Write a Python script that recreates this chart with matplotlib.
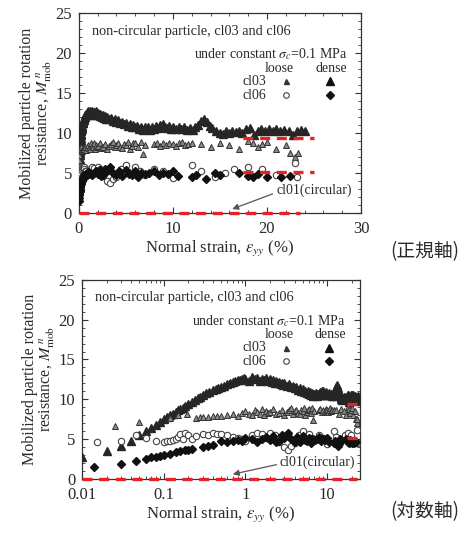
import matplotlib.pyplot as plt
from matplotlib.ticker import MultipleLocator

plt.rcParams['font.family'] = ['Liberation Serif', 'Noto Sans CJK JP']
plt.rcParams['mathtext.fontset'] = 'stix'

# cl03 dense (large filled triangles)
cl03_dense_x = [0.01, 0.02, 0.03, 0.04, 0.05, 0.06, 0.07, 0.08, 0.09, 0.1, 0.11, 0.12, 0.13, 0.14, 0.15,
                0.16, 0.17, 0.18, 0.2, 0.22, 0.24, 0.26, 0.28, 0.3, 0.33, 0.36, 0.4, 0.43, 0.46, 0.5,
                0.55, 0.6, 0.65, 0.7, 0.75, 0.8, 0.85, 0.9, 0.95,
                1.0, 1.1, 1.2, 1.3, 1.4, 1.5, 1.6, 1.7, 1.8, 1.9, 2.0, 2.1, 2.2, 2.3, 2.4, 2.5,
                2.6, 2.7, 2.8, 2.9, 3.0, 3.2, 3.4, 3.6, 3.8, 4.0, 4.2, 4.4, 4.6, 4.8, 5.0, 5.2,
                5.4, 5.6, 5.8, 6.0, 6.2, 6.4, 6.6, 6.8, 7.0, 7.2, 7.4, 7.6, 7.8, 8.0, 8.2, 8.4,
                8.6, 8.8, 9.0, 9.2, 9.4, 9.6, 9.8, 10.0, 10.3, 10.6, 10.9, 11.2, 11.5, 11.8, 12.1,
                12.4, 12.7, 13.0, 13.3, 13.6, 13.9, 14.2, 14.6, 15.0, 15.3, 15.6, 16.0, 16.3, 16.7,
                17.0, 17.4, 17.8, 18.2, 18.6, 19.0, 19.4, 19.8, 20.2, 20.6, 21.0, 21.4, 21.8, 22.3,
                22.8, 23.2, 23.6, 24.0]
cl03_dense_y = [2.8, 3.5, 4.2, 4.8, 5.5, 6.0, 6.4, 6.8, 7.2, 7.5, 7.8, 8.0, 8.2, 8.4, 8.6,
                8.8, 8.9, 9.1, 9.4, 9.7, 9.9, 10.2, 10.3, 10.5, 10.8, 10.9, 11.2, 11.3, 11.4, 11.6,
                11.7, 11.9, 12.0, 12.2, 12.3, 12.4, 12.4, 12.5, 12.7,
                12.6, 12.3, 12.8, 12.5, 12.7, 12.3, 12.6, 12.4, 12.7, 12.3, 12.5, 12.2, 12.4, 12.1, 12.3, 12.0,
                12.2, 11.9, 12.1, 11.8, 12.0, 11.7, 11.9, 11.5, 11.7, 11.4, 11.6, 11.2, 11.4, 11.1, 11.3, 10.9,
                11.1, 10.8, 11.0, 10.7, 10.9, 10.5, 10.8, 10.4, 10.7, 10.5, 10.8, 10.4, 10.7, 10.5, 10.9, 10.6,
                11.0, 10.7, 11.1, 10.8, 10.6, 10.9, 10.5, 10.7, 10.5, 10.8, 10.5, 10.7, 10.4, 10.6, 10.4,
                10.7, 11.0, 11.5, 11.8, 11.4, 10.9, 10.6, 10.3, 10.0, 9.9, 10.2, 10.0, 10.3, 10.1,
                10.3, 10.0, 10.5, 10.6, 9.7, 10.2, 10.5, 10.3, 10.5, 10.3, 10.5, 10.3, 10.4, 10.3,
                9.8, 10.3, 10.4, 10.2]

# cl03 loose (small triangles)
cl03_loose_x = [0.025, 0.05, 0.12, 0.15, 0.19, 0.25, 0.28, 0.3, 0.35, 0.4, 0.45, 0.5, 0.6, 0.7, 0.8,
                0.9, 1.0, 1.1, 1.2, 1.3, 1.4, 1.5, 1.6, 1.7, 1.8, 1.9, 2.0, 2.2, 2.4, 2.6, 2.8,
                3.0, 3.2, 3.4, 3.6, 3.8, 4.0, 4.2, 4.4, 4.6, 4.8, 5.0, 5.2, 5.4, 5.6, 5.8, 6.0,
                6.3, 6.6, 6.8, 7.0, 8.0, 8.3, 8.6, 9.0, 9.3, 9.6, 10.0, 10.3, 10.6, 11.0, 11.3,
                11.6, 12.0, 13.0, 14.0, 15.0, 16.0, 17.0, 18.0, 18.5, 19.0, 19.5, 20.0, 21.0,
                22.0, 22.5, 23.0, 23.3]
cl03_loose_y = [6.6, 7.2, 7.7, 8.0, 8.2, 7.7, 7.8, 7.8, 7.8, 7.9, 7.9, 7.9, 8.0, 8.2, 7.9,
                8.3, 8.5, 8.1, 8.0, 8.7, 8.4, 8.2, 8.8, 8.0, 8.5, 8.3, 8.4, 8.8, 8.1, 8.3, 8.6,
                8.0, 8.4, 8.6, 8.9, 8.2, 8.5, 8.7, 8.3, 8.1, 8.6, 8.5, 8.9, 8.0, 8.4, 8.7, 8.8,
                8.3, 8.9, 7.4, 8.5, 8.6, 8.8, 8.4, 8.7, 8.5, 8.8, 8.6, 8.4, 8.7, 8.9, 8.5,
                8.6, 8.7, 8.6, 8.2, 8.8, 8.5, 8.0, 9.0, 8.8, 8.3, 8.6, 8.9, 8.0,
                8.5, 7.5, 7.0, 7.5]

# cl06 loose (open circles)
cl06_loose_x = [0.015, 0.03, 0.045, 0.06, 0.08, 0.1, 0.11, 0.12, 0.13, 0.14, 0.15, 0.16, 0.17, 0.18,
                0.2, 0.22, 0.25, 0.3, 0.35, 0.4, 0.45, 0.5, 0.6, 0.7, 0.8, 0.9, 1.0, 1.2, 1.4,
                1.6, 1.8, 2.0, 2.3, 2.6, 3.0, 3.3, 3.6, 4.0, 4.5, 5.0, 5.5, 6.0, 6.5, 7.0, 8.0,
                9.0, 10.0, 12.0, 13.0, 14.5, 15.5, 16.5, 18.0, 19.5, 21.0, 23.0, 23.2]
cl06_loose_y = [4.6, 4.8, 5.5, 5.2, 4.8, 4.7, 4.8, 4.8, 4.9, 5.0, 5.3, 5.6, 5.0, 5.8,
                5.5, 5.0, 5.4, 5.6, 5.5, 5.8, 5.6, 5.7, 5.5, 5.3, 5.2, 5.0, 4.8, 5.5, 5.8,
                5.6, 5.2, 5.8, 5.5, 4.6, 4.0, 3.7, 4.2, 4.5, 5.5, 6.0, 5.0, 5.7, 5.2, 4.8, 5.5,
                5.2, 4.4, 6.0, 5.3, 4.5, 5.0, 5.5, 5.8, 5.5, 4.8, 6.2, 4.5]

# cl06 dense (filled diamonds)
cl06_dense_x = [0.014, 0.03, 0.045, 0.06, 0.07, 0.08, 0.09, 0.1, 0.12, 0.14, 0.16, 0.18, 0.2, 0.22,
                0.3, 0.35, 0.4, 0.5, 0.6, 0.7, 0.8, 0.9, 1.0, 1.2, 1.4, 1.6, 1.8, 2.0, 2.2, 2.4,
                2.6, 2.8, 3.0, 3.3, 3.6, 4.0, 4.3, 4.6, 5.0, 5.3, 5.6, 6.0, 6.3, 6.6, 7.0, 7.5,
                8.0, 8.5, 9.0, 9.5, 10.0, 10.5, 12.0, 12.5, 13.5, 14.5, 15.0, 17.0, 18.0, 18.5,
                19.0, 20.0, 21.5, 22.5]
cl06_dense_y = [1.5, 1.9, 2.3, 2.5, 2.7, 2.8, 2.9, 3.0, 3.2, 3.4, 3.5, 3.6, 3.7, 3.8,
                4.0, 4.2, 4.3, 4.8, 4.7, 4.8, 4.9, 4.8, 5.1, 5.0, 4.7, 5.0, 5.3, 4.9, 5.4, 4.6,
                4.8, 5.5, 5.2, 5.8, 5.0, 4.7, 5.3, 4.6, 5.4, 4.9, 4.8, 5.2, 4.5, 5.0, 4.9, 5.0,
                5.3, 4.8, 5.0, 4.9, 5.2, 4.6, 4.5, 4.8, 4.2, 5.0, 4.8, 5.0, 4.6, 4.5,
                4.9, 4.5, 4.5, 4.6]

# reference levels (red dashed)
ref_levels = [9.4, 5.1]
ref_start, ref_end = 17.5, 25.0
cl01_level = 0.0
cl01_end = 23.5

TXT = '#2a2a2a'
RED = '#e8202a'


def draw(ax, log):
    ax.plot(cl03_dense_x, cl03_dense_y, '^', ms=6.2, color='#262626', mec='#262626', zorder=3)
    ax.plot(cl03_loose_x, cl03_loose_y, '^', ms=4.2, mfc='#8a8a8a', mec='#333', mew=0.7, zorder=3)
    ax.plot(cl06_loose_x, cl06_loose_y, 'o', ms=4.6, mfc='white', mec='#444', mew=0.8, zorder=3)
    ax.plot(cl06_dense_x, cl06_dense_y, 'D', ms=4.4, color='#111', zorder=3)
    for lv in ref_levels:
        ax.plot([ref_start, ref_end], [lv, lv], '--', color=RED, lw=2.4, dashes=(3, 2.0), zorder=4)
    x0 = 0.01 if log else 0.0
    ax.plot([x0, cl01_end], [cl01_level, cl01_level], '--', color=RED, lw=2.4,
            dashes=(3, 2.0), zorder=4, clip_on=False)

    ax.set_ylim(0, 25)
    ax.yaxis.set_major_locator(MultipleLocator(5))
    ax.yaxis.set_minor_locator(MultipleLocator(1))
    if log:
        ax.set_xscale('log')
        ax.set_xlim(0.01, 25)
        ax.set_xticks([0.01, 0.1, 1, 10])
        ax.set_xticklabels(['0.01', '0.1', '1', '10'])
    else:
        ax.set_xlim(0, 30)
        ax.xaxis.set_major_locator(MultipleLocator(10))
        ax.xaxis.set_minor_locator(MultipleLocator(2))
    ax.tick_params(which='both', direction='in', top=True, right=True, colors='#333',
                   labelcolor=TXT, labelsize=12)
    ax.tick_params(axis='y', pad=5)
    ax.tick_params(axis='x', pad=6)
    ax.tick_params(which='major', length=4)
    ax.tick_params(which='minor', length=2)
    for s in ax.spines.values():
        s.set_color('#333')
        s.set_linewidth(0.9)

    ax.set_xlabel(r'Normal strain, $\varepsilon_{yy}$ (%)', fontsize=12, color=TXT, labelpad=1)
    ax.set_ylabel('Mobilized particle rotation\n' + r'resistance, $M_{\mathrm{mob}}^{\ n}$',
                  fontsize=11.5, color=TXT, linespacing=1.0, labelpad=1)

    t = ax.transAxes
    ax.text(0.045, 0.91, 'non-circular particle, cl03 and cl06', transform=t, fontsize=10.3,
            color=TXT, va='center')
    ax.text(0.95, 0.795, r'under constant $\sigma_c$=0.1 MPa', transform=t, fontsize=10,
            color=TXT, va='center', ha='right')
    ax.text(0.71, 0.725, 'loose', transform=t, fontsize=10, color=TXT, va='center', ha='center')
    ax.text(0.895, 0.725, 'dense', transform=t, fontsize=10, color=TXT, va='center', ha='center')
    ax.text(0.665, 0.66, 'cl03', transform=t, fontsize=10, color=TXT, va='center', ha='right')
    ax.text(0.665, 0.59, 'cl06', transform=t, fontsize=10, color=TXT, va='center', ha='right')
    ax.plot([0.735], [0.66], '^', ms=3.6, mfc='#333', mec='#333', transform=t)
    ax.plot([0.89], [0.66], '^', ms=6.0, color='#111', transform=t)
    ax.plot([0.735], [0.59], 'o', ms=4.0, mfc='white', mec='#444', mew=0.8, transform=t)
    ax.plot([0.89], [0.59], 'D', ms=4.0, color='#111', transform=t)


fig = plt.figure(figsize=(4.75, 5.34), dpi=100)
ax1 = fig.add_axes([0.166, 0.601, 0.594, 0.3745])
ax2 = fig.add_axes([0.173, 0.103, 0.584, 0.373])
draw(ax1, False)
draw(ax2, True)

arrow = dict(arrowstyle='-|>', color='#555', lw=0.9, mutation_scale=9, shrinkA=0, shrinkB=0)
ax1.annotate('', xy=(16.3, 0.5), xytext=(20.6, 2.4), arrowprops=arrow)
ax1.text(29.0, 2.9, 'cl01(circular)', fontsize=10, color=TXT, ha='right', va='center')
ax2.annotate('', xy=(0.7, 0.6), xytext=(2.4, 1.8), arrowprops=arrow)
ax2.text(22.0, 2.1, 'cl01(circular)', fontsize=10, color=TXT, ha='right', va='center')

fig.text(0.895, 0.528, '(正規軸)', fontsize=13.5, color=TXT, ha='center', va='center',
         family=['Noto Sans CJK JP'])
fig.text(0.895, 0.042, '(対数軸)', fontsize=13.5, color=TXT, ha='center', va='center',
         family=['Noto Sans CJK JP'])

fig.savefig('out.png', dpi=100)
